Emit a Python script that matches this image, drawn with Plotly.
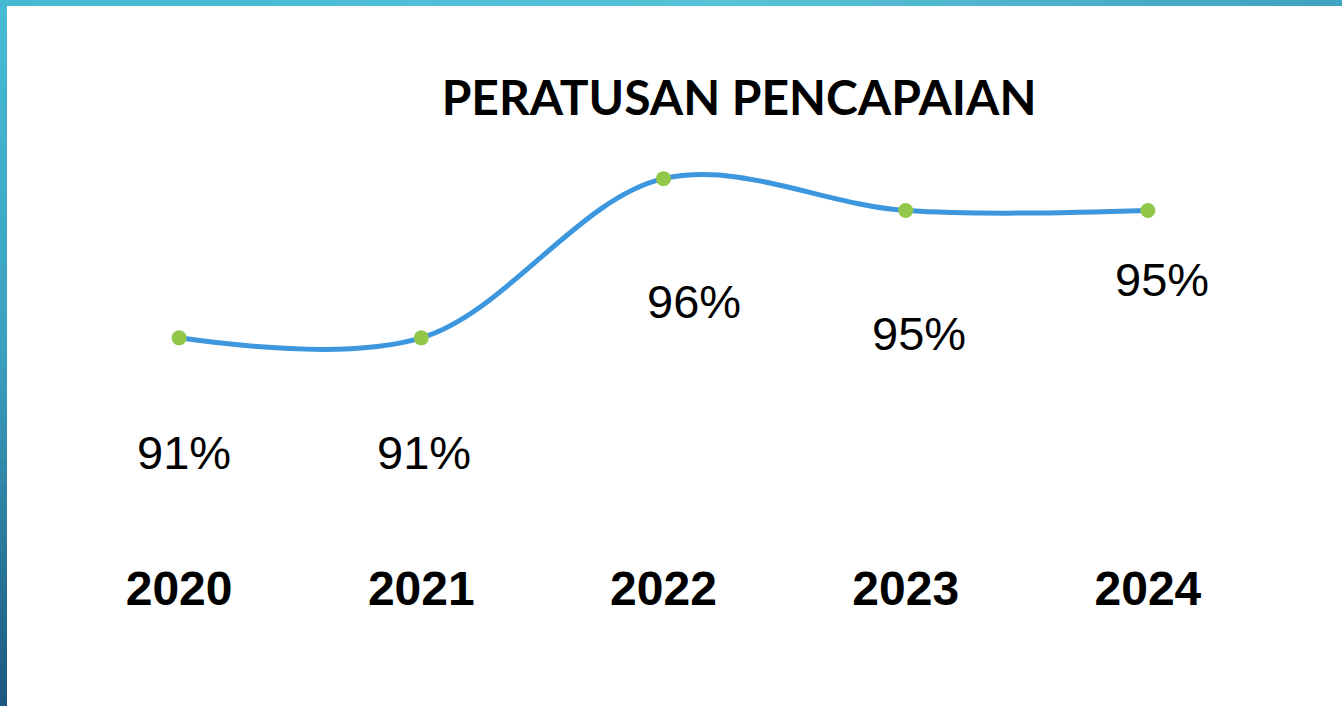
import plotly.graph_objects as go

years = ["2020", "2021", "2022", "2023", "2024"]
values = [91, 91, 96, 95, 95]
labels = ["91%", "91%", "96%", "95%", "95%"]
title_text = "PERATUSAN PENCAPAIAN"

# label offsets (pixels) relative to each point
label_dx = [5, 3, 30, 13, 14]
label_dy = [-115, -115, -123, -123, -69]

W, H = 1342, 706

fig = go.Figure()
fig.add_trace(go.Scatter(
    x=years, y=values, mode="lines+markers",
    line=dict(color="#3c97de", width=5, shape="spline", smoothing=1),
    marker=dict(color="#92c84a", size=15, line=dict(width=0)),
    hoverinfo="skip", showlegend=False,
))

for i, (y, t, dx, dy) in enumerate(zip(values, labels, label_dx, label_dy)):
    fig.add_annotation(x=i, y=y, xref="x", yref="y", text=t, showarrow=False,
                       xshift=dx, yshift=dy,
                       font=dict(family="Liberation Sans, Arial", size=47, color="#000000"))

def lerp(c1, c2, t):
    return "#%02x%02x%02x" % tuple(int(round(a + (b - a) * t)) for a, b in zip(c1, c2))

PL, PB, PW, PH = 58, 209, 1211, 382

shapes = []
# top gradient bar
top_stops = [(0.0, (0x45, 0xb8, 0xd3)), (0.55, (0x57, 0xc2, 0xd8)), (1.0, (0x3e, 0xa3, 0xbe))]
n = 40
for i in range(n):
    t = (i + 0.5) / n
    for (p0, c0), (p1, c1) in zip(top_stops[:-1], top_stops[1:]):
        if p0 <= t <= p1:
            col = lerp(c0, c1, (t - p0) / (p1 - p0))
            break
    shapes.append(dict(type="rect", xref="paper", yref="paper",
                       x0=(-PL + i * W / n) / PW, x1=(-PL + (i + 1) * W / n + 1) / PW,
                       y0=(H - 6 - PB) / PH, y1=(H - PB) / PH + 0.01,
                       fillcolor=col, line=dict(width=0), layer="above"))
# left gradient bar
left_stops = [(0.0, (0x46, 0xbb, 0xd6)), (0.5, (0x3a, 0xa0, 0xbd)), (1.0, (0x1c, 0x58, 0x80))]
m = 60
for i in range(m):
    t = (i + 0.5) / m
    for (p0, c0), (p1, c1) in zip(left_stops[:-1], left_stops[1:]):
        if p0 <= t <= p1:
            col = lerp(c0, c1, (t - p0) / (p1 - p0))
            break
    ytop = 6 + i * (H - 6) / m
    ybot = 6 + (i + 1) * (H - 6) / m + 1
    shapes.append(dict(type="rect", xref="paper", yref="paper",
                       x0=-PL / PW - 0.01, x1=(-PL + 7) / PW,
                       y0=(H - PB - ybot) / PH, y1=(H - PB - ytop) / PH,
                       fillcolor=col, line=dict(width=0), layer="above"))

fig.update_layout(
    width=W, height=H,
    margin=dict(l=PL, r=W - PL - PW, t=H - PB - PH, b=PB),
    paper_bgcolor="#ffffff", plot_bgcolor="#ffffff",
    title=dict(text="<b>" + title_text + "</b>", x=739 / W, xanchor="center", xref="container",
               y=1 - 98 / H, yanchor="middle", yref="container",
               font=dict(family="Lato, Open Sans, sans-serif", size=48, color="#000000")),
    xaxis=dict(type="category", range=[-0.5, 4.5], showgrid=False, showline=False, zeroline=False,
               ticks="", ticklabelstandoff=59,
               tickfont=dict(family="Liberation Sans, Arial", size=48, color="#000000", weight="bold")),
    yaxis=dict(range=[86, 98], visible=False, showgrid=False, zeroline=False),
    shapes=shapes,
)

fig.write_html("out.html", config={"displayModeBar": False},
               post_script="document.body.style.margin='0';document.body.style.overflow='hidden';")
